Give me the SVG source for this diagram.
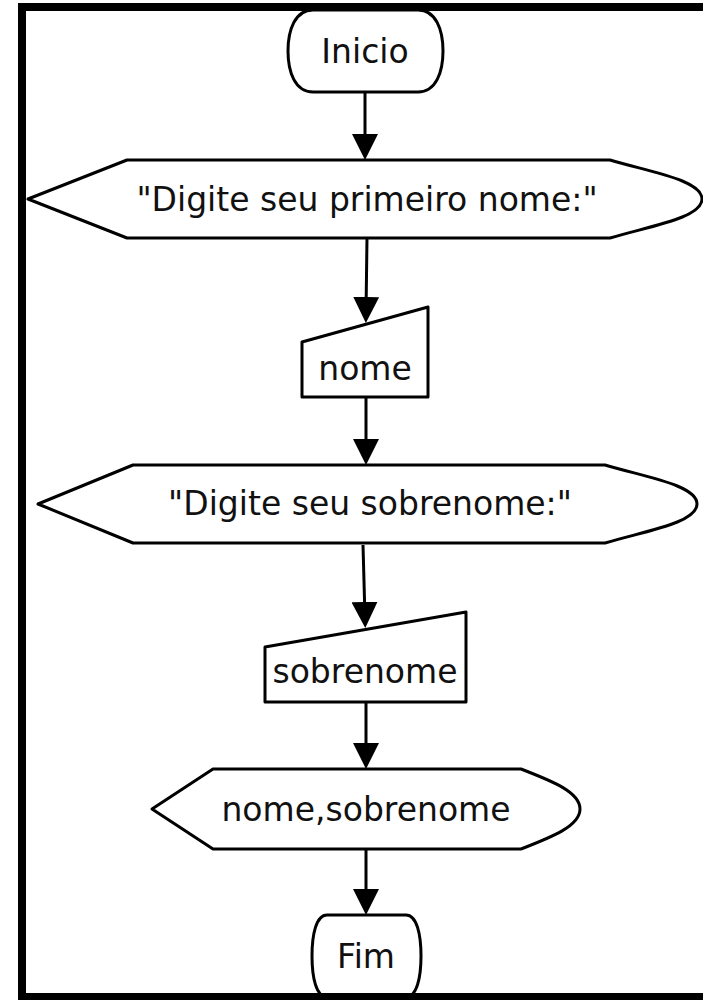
<svg xmlns="http://www.w3.org/2000/svg" width="703" height="1000" viewBox="0 0 703 1000">
<style>
.shape{fill:#fff;stroke:#000;stroke-width:3;stroke-linejoin:round}
.conn{fill:none;stroke:#000;stroke-width:3}
.lbl{font-family:"DejaVu Sans","Liberation Sans",sans-serif;font-size:33px;fill:#111;text-anchor:middle}
</style>
<defs>
<marker id="arrow" markerUnits="userSpaceOnUse" viewBox="0 0 26 26" markerWidth="26" markerHeight="26" refX="16" refY="13" orient="auto">
<path d="M0,0 L13,13 L0,0 L26,13 L0,26 Z" fill="#000"/>
</marker>
</defs>
<rect width="703" height="1000" fill="#fff"/>
<g id="connectors">
<path class="conn" d="M365,92 L365,150" marker-end="url(#arrow)"/>
<path class="conn" d="M367,238 L366,313" marker-end="url(#arrow)"/>
<path class="conn" d="M366,397 L366,455" marker-end="url(#arrow)"/>
<path class="conn" d="M363,545 L365,618" marker-end="url(#arrow)"/>
<path class="conn" d="M366,702 L366,759" marker-end="url(#arrow)"/>
<path class="conn" d="M366,849 L366,905" marker-end="url(#arrow)"/>
</g>
<g id="inicio">
<path class="shape" d="M313,10 L418,10 C436,10 443,30 443,51 C443,72 436,92 418,92 L313,92 C295,92 288,72 288,51 C288,30 295,10 313,10 Z"/>
<text class="lbl" x="365" y="63">Inicio</text>
</g>
<g id="display1">
<path class="shape" d="M127,160 L610,160 C650,172 702,180 702,199 C702,218 650,226 610,238 L127,238 L28,199 Z"/>
<text class="lbl" x="367" y="211">"Digite seu primeiro nome:"</text>
</g>
<g id="input-nome">
<path class="shape" d="M302,342 L428,307 L428,397 L302,397 Z"/>
<text class="lbl" x="365" y="380">nome</text>
</g>
<g id="display2">
<path class="shape" d="M133,465 L605,465 C645,477 697,485 697,504 C697,523 645,531 605,543 L133,543 L38,504 Z"/>
<text class="lbl" x="370" y="515">"Digite seu sobrenome:"</text>
</g>
<g id="input-sobrenome">
<path class="shape" d="M265,647 L466,612 L466,702 L265,702 Z"/>
<text class="lbl" x="365" y="683">sobrenome</text>
</g>
<g id="display3">
<path class="shape" d="M213,769 L521,769 C552,781 580,792 580,809 C580,826 552,837 521,849 L213,849 L152,809 Z"/>
<text class="lbl" x="366" y="821">nome,sobrenome</text>
</g>
<g id="fim">
<path class="shape" d="M327,915 L406,915 C417,915 421,935 421,956 C421,977 417,997 406,997 L327,997 C316,997 312,977 312,956 C312,935 316,915 327,915 Z"/>
<text class="lbl" x="366" y="968">Fim</text>
</g>
<rect id="frame" x="22" y="7" width="700" height="990" fill="none" stroke="#000" stroke-width="8"/>
</svg>
